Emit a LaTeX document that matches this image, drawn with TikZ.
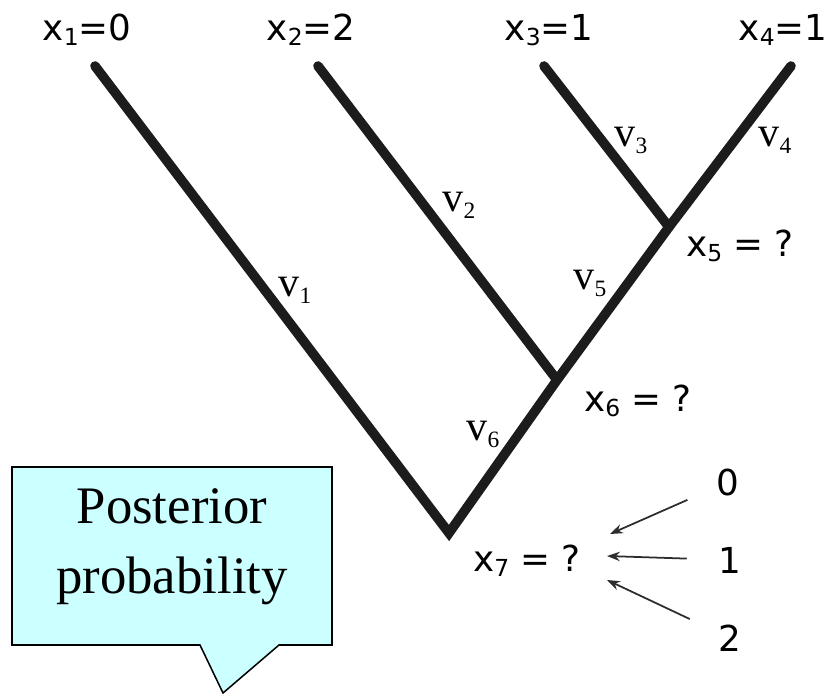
\documentclass[tikz,border=0pt]{standalone}
\usepackage{fontspec}
\setmainfont{Liberation Serif}
\newfontfamily\statefont{DejaVu Sans}
\usetikzlibrary{arrows.meta}
\definecolor{branchblack}{RGB}{28,28,28}
\definecolor{arrowgray}{RGB}{45,45,45}
\definecolor{calloutcyan}{RGB}{204,255,255}
\newcommand{\xsub}[1]{{\fontsize{20}{20}\selectfont\raisebox{-4pt}{#1}}}
\newcommand{\vsub}[1]{{\fontsize{20}{20}\selectfont\raisebox{-6pt}{#1}}}

\begin{document}
\begin{tikzpicture}[x=0.03cm, y=-0.03cm,
    branch/.style={line width=8.2pt, branchblack, line cap=round, line join=miter},
    statelabel/.style={font=\statefont\fontsize{30.5}{30.5}\selectfont, inner sep=0pt},
    lenlabel/.style={font=\fontsize{36}{36}\selectfont, inner sep=0pt},
    choicearrow/.style={line width=1.5pt, arrowgray, -{Stealth[length=11pt, width=8pt]}, shorten <=0.95cm}]
  \useasboundingbox (0,0) rectangle (828,695);
  % tree
  \coordinate (l1) at (95,66);
  \coordinate (l2) at (318,66);
  \coordinate (l3) at (544,66);
  \coordinate (l4) at (791,66);
  \coordinate (n5) at (669,227);
  \coordinate (n6) at (557,380);
  \coordinate (n7) at (449,533);
  \draw[branch] (l1) -- (n7) -- (n6) -- (n5) -- (l4);
  \draw[branch] (l2) -- (n6);
  \draw[branch] (l3) -- (n5);
  % states
  \node[statelabel] (x1) at (87,30) {x\xsub{1}=0};
  \node[statelabel] (x2) at (311,30) {x\xsub{2}=2};
  \node[statelabel] (x3) at (549,30) {x\xsub{3}=1};
  \node[statelabel] (x4) at (783,30) {x\xsub{4}=1};
  \node[statelabel] (x5) at (740,246) {x\xsub{5} = ?};
  \node[statelabel] (x6) at (638,401) {x\xsub{6} = ?};
  \node[statelabel] (x7) at (527,561) {x\xsub{7} = ?};
  % branch lengths
  \node[lenlabel] (v1) at (295,290) {v\vsub{1}};
  \node[lenlabel] (v2) at (459,205) {v\vsub{2}};
  \node[lenlabel] (v3) at (631,140) {v\vsub{3}};
  \node[lenlabel] (v4) at (775,140) {v\vsub{4}};
  \node[lenlabel] (v5) at (590,283) {v\vsub{5}};
  \node[lenlabel] (v6) at (483,434) {v\vsub{6}};
  % candidate states for the root
  \node[statelabel] (c0) at (728,482) {0};
  \node[statelabel] (c1) at (730,560) {1};
  \node[statelabel] (c2) at (730,638) {2};
  \coordinate (t0) at (610,534);
  \coordinate (t1) at (607,556);
  \coordinate (t2) at (607,580);
  \draw[choicearrow] (c0) -- (t0);
  \draw[choicearrow] (c1) -- (t1);
  \draw[choicearrow] (c2) -- (t2);
  % callout
  \draw[line width=1.3pt, fill=calloutcyan] (12,467) -- (332,467) -- (332,645) -- (279,645)
    -- (223,693) -- (200,645) -- (12,645) -- cycle;
  \node[align=center, font=\fontsize{45}{60}\selectfont] (post) at (172,547) {Posterior\\probability};
\end{tikzpicture}
\end{document}
